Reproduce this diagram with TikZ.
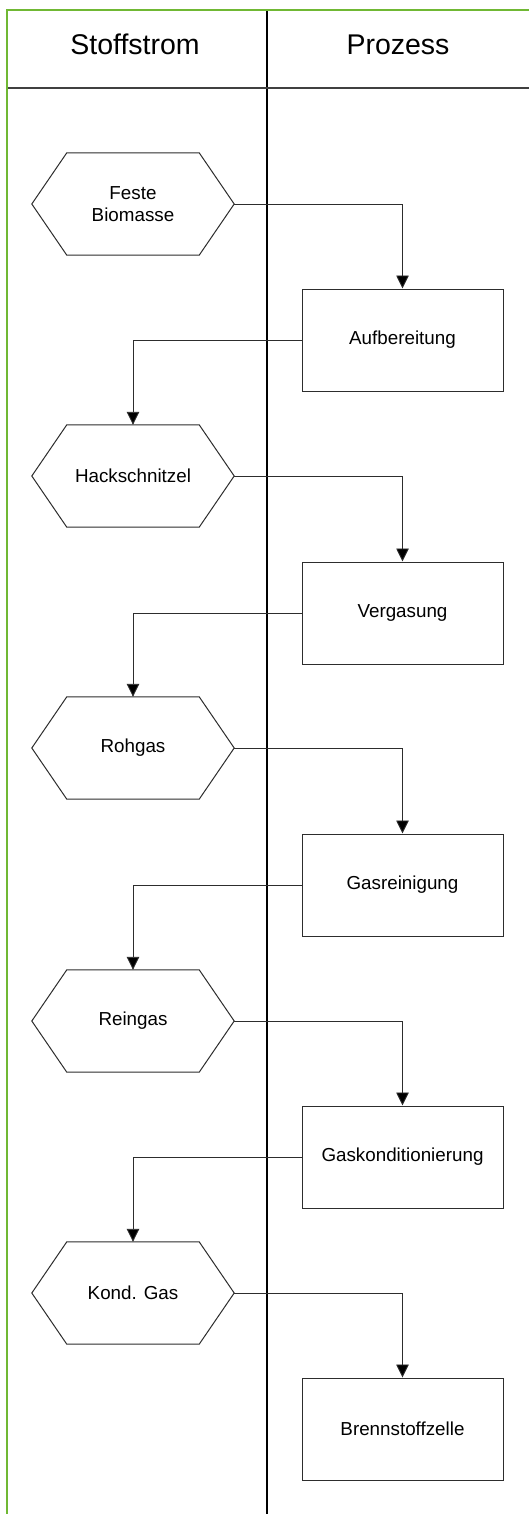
\documentclass[tikz,border=0pt]{standalone}
\usepackage{fontspec}
\setmainfont{Liberation Sans}
\usetikzlibrary{arrows.meta}
\definecolor{laneGreen}{RGB}{112,184,52}
\definecolor{lineGray}{RGB}{45,45,45}
\begin{document}
\begin{tikzpicture}[x=1pt,y=-1pt,
  hexnode/.style={minimum width=202pt,minimum height=102pt,inner sep=0pt,align=center,font=\fontsize{18.8}{22}\selectfont},
  procbox/.style={draw=lineGray,line width=1pt,minimum width=201pt,minimum height=102pt,inner sep=0pt,align=center,font=\fontsize{18.8}{22}\selectfont},
  conn/.style={draw=lineGray,line width=0.9pt,-{Triangle[length=13pt,width=12.5pt,fill=black]}},
  hexline/.style={draw=lineGray,line width=1pt},
  header/.style={font=\fontsize{28.5}{32}\selectfont,anchor=base}
]
\useasboundingbox (0,0) rectangle (529,1514);
\fill[white] (0,0) rectangle (529,1514);
% lanes
\draw[black,line width=1.3pt] (267,10) -- (267,1514);
\draw[black!75,line width=1.2pt] (7,88) -- (529,88);
\draw[laneGreen,line width=2.2pt] (7,1514) -- (7,10) -- (529,10);
\node[header] (hs) at (135,55) {Stoffstrom};
\node[header] (hp) at (398,55) {Prozess};
% hexagons (material flows)
\node[hexnode] (h1) at (133,204) {Feste\\Biomasse};
\node[hexnode] (h2) at (133,476) {Hackschnitzel};
\node[hexnode] (h3) at (133,748) {Rohgas};
\node[hexnode] (h4) at (133,1021) {Reingas};
\node[hexnode] (h5) at (133,1293) {Kond. Gas};
\foreach \h in {h1,h2,h3,h4,h5}{
  \draw[hexline] (\h.west) -- ([xshift=35pt]\h.north west) -- ([xshift=-35pt]\h.north east)
    -- (\h.east) -- ([xshift=-35pt]\h.south east) -- ([xshift=35pt]\h.south west) -- cycle;
}
% process boxes
\node[procbox] (b1) at (402.5,340) {Aufbereitung};
\node[procbox] (b2) at (402.5,613) {Vergasung};
\node[procbox] (b3) at (402.5,885) {Gasreinigung};
\node[procbox] (b4) at (402.5,1157) {Gaskonditionierung};
\node[procbox] (b5) at (402.5,1429) {Brennstoffzelle};
% connectors
\draw[conn] (h1.east) -| (b1.north);
\draw[conn] (b1.west) -| (h2.north);
\draw[conn] (h2.east) -| (b2.north);
\draw[conn] (b2.west) -| (h3.north);
\draw[conn] (h3.east) -| (b3.north);
\draw[conn] (b3.west) -| (h4.north);
\draw[conn] (h4.east) -| (b4.north);
\draw[conn] (b4.west) -| (h5.north);
\draw[conn] (h5.east) -| (b5.north);
\end{tikzpicture}
\end{document}
